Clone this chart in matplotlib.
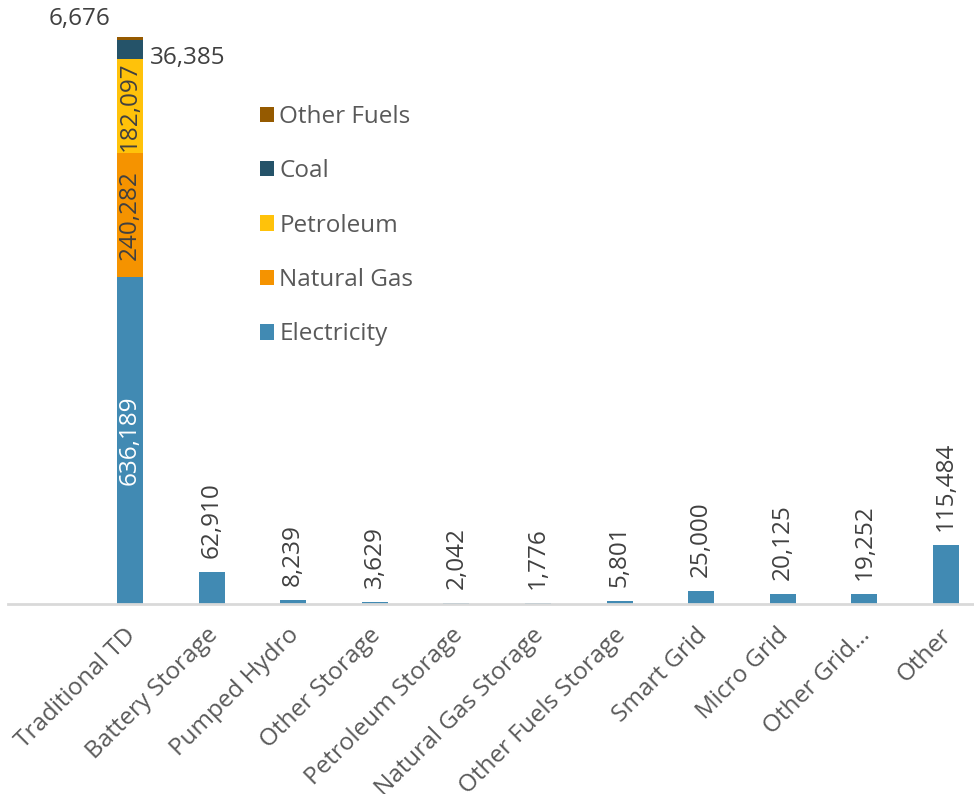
import matplotlib.pyplot as plt
import matplotlib.transforms as mtransforms
import numpy as np

plt.rcParams['font.family'] = ['Open Sans', 'DejaVu Sans']

categories = ['Traditional TD', 'Battery Storage', 'Pumped Hydro', 'Other Storage',
              'Petroleum Storage', 'Natural Gas Storage', 'Other Fuels Storage',
              'Smart Grid', 'Micro Grid', 'Other Grid\u2026', 'Other']

# stacked fuel split for the first category
fuels = ['Electricity', 'Natural Gas', 'Petroleum', 'Coal', 'Other Fuels']
fuel_values = [636189, 240282, 182097, 36385, 6676]
fuel_colors = ['#418AB3', '#F59300', '#FFC20A', '#255369', '#955A00']

# single (electricity) values for the remaining categories
other_values = [62910, 8239, 3629, 2042, 1776, 5801, 25000, 20125, 19252, 115484]

label_color = '#404040'
tick_color = '#595959'
fs = 17.5

fig = plt.figure(figsize=(9.74, 7.94), dpi=100)
total = sum(fuel_values)
ax = fig.add_axes([8 / 974, 1 - 604 / 794, 966 / 974, 567 / 794])

x = np.arange(len(categories))
width = 0.32

bottom = 0
bars = []
for name, val, col in zip(fuels, fuel_values, fuel_colors):
    b = ax.bar(x[0], val, width, bottom=bottom, color=col, label=name)
    bars.append((b, bottom, val))
    bottom += val

ax.bar(x[1:], other_values, width, color=fuel_colors[0])

# labels inside the stack
for (b, btm, val), name in zip(bars, fuels):
    txt = f'{val:,}'
    if name in ('Electricity', 'Natural Gas', 'Petroleum'):
        col = 'white' if name == 'Electricity' else label_color
        ax.text(x[0], btm + val / 2, txt, rotation=90, ha='center', va='center',
                fontsize=fs, color=col)
    elif name == 'Coal':
        ax.annotate(txt, (x[0] + width / 2, btm + val / 2), xytext=(5, -6),
                    textcoords='offset points', ha='left', va='center',
                    fontsize=fs, color=label_color)
    else:
        ax.annotate(txt, (x[0], btm + val), xytext=(-36, 13),
                    textcoords='offset points', ha='center', va='center',
                    fontsize=fs, color=label_color)

# labels above the single bars
for xi, val in zip(x[1:], other_values):
    ax.annotate(f'{val:,}', (xi, val), xytext=(0, 10), textcoords='offset points',
                rotation=90, ha='center', va='bottom', fontsize=fs, color=label_color)

ax.set_xlim(-1.495, 10.343)
ax.set_ylim(0, total)

for s in ['top', 'right', 'left']:
    ax.spines[s].set_visible(False)
ax.spines['bottom'].set_color('#D9D9D9')
ax.spines['bottom'].set_linewidth(2)
ax.set_yticks([])
ax.set_xticks(x)
ax.set_xticklabels(categories, rotation=45, ha='right', rotation_mode='anchor',
                   fontsize=fs, color=tick_color)
ax.tick_params(axis='x', length=0, pad=14)
shift = mtransforms.ScaledTranslation(-6 / 100, 0, fig.dpi_scale_trans)
for lbl in ax.get_xticklabels():
    lbl.set_transform(lbl.get_transform() + shift)

handles, labels = ax.get_legend_handles_labels()
ax.legend(handles[::-1], labels[::-1], loc='upper left',
          bbox_to_anchor=(238 / 974, 1 - 83 / 794), bbox_transform=fig.transFigure,
          frameon=False, fontsize=fs, labelcolor=tick_color, handlelength=0.6,
          handleheight=0.6, handletextpad=0.2, labelspacing=1.25)

fig.savefig('out.png', dpi=100)
